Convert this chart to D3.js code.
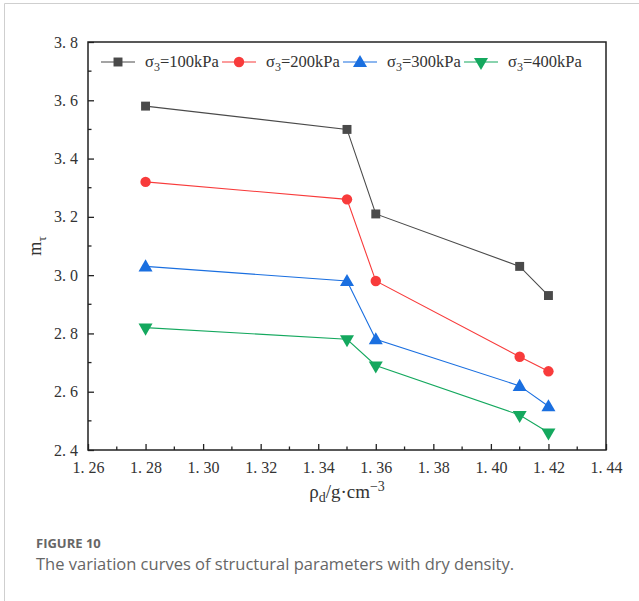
<!DOCTYPE html>
<html>
<head>
<meta charset="utf-8">
<script src="https://cdn.jsdelivr.net/npm/d3@7"></script>
<style>
  body { margin: 0; background: #fff; }
</style>
</head>
<body>
<div id="chart"></div>
<script>
// dry density values (x axis)
var densities = [1.28, 1.35, 1.36, 1.41, 1.42];

// structural parameter m for each confining pressure
var seriesNames = ["100kPa", "200kPa", "300kPa", "400kPa"];
var m100 = [3.58, 3.50, 3.21, 3.03, 2.93];
var m200 = [3.32, 3.26, 2.98, 2.72, 2.67];
var m300 = [3.03, 2.98, 2.78, 2.62, 2.55];
var m400 = [2.82, 2.78, 2.69, 2.52, 2.46];

var xTicks = [1.26, 1.28, 1.30, 1.32, 1.34, 1.36, 1.38, 1.40, 1.42, 1.44];
var yTicks = [2.4, 2.6, 2.8, 3.0, 3.2, 3.4, 3.6, 3.8];

var colors = ["#4a4a4a", "#f83b3b", "#1a6fe0", "#14a85e"];
var symbols = [d3.symbolSquare, d3.symbolCircle, d3.symbolTriangle, "down"];
var serif = "Liberation Serif, DejaVu Serif, serif";

var width = 639, height = 601;
var margin = {left: 88, top: 42, right: 33, bottom: 151};

var svg = d3.select("#chart").append("svg")
    .attr("width", width)
    .attr("height", height);

// card border
svg.append("path")
    .attr("d", "M4.5," + height + "V3.5H" + width)
    .attr("fill", "none")
    .attr("stroke", "#cfcfcf")
    .attr("stroke-width", 1);

var x = d3.scaleLinear()
    .domain([1.26, 1.44])
    .range([margin.left, width - margin.right]);
var y = d3.scaleLinear()
    .domain([2.4, 3.8])
    .range([height - margin.bottom, margin.top]);

var fmt = function(d) { return d.toFixed(d < 2 ? 2 : 1).replace(".", ". "); };

// minor ticks
var xMinor = d3.range(1.27, 1.44, 0.02);
var yMinor = d3.range(2.5, 3.8, 0.2);

var xAxis = svg.append("g")
    .attr("transform", "translate(0," + y(2.4) + ")")
    .call(d3.axisBottom(x).tickValues(xTicks).tickFormat(fmt).tickSizeInner(-6).tickSizeOuter(0).tickPadding(12))
    .attr("font-family", serif)
    .attr("font-size", 16);
xAxis.select(".domain").remove();
xAxis.selectAll(".tick line").attr("stroke", "#222").attr("stroke-width", 1.3);

svg.append("g").selectAll("line")
    .data(xMinor)
    .enter().append("line")
    .attr("x1", function(d) { return x(d); })
    .attr("x2", function(d) { return x(d); })
    .attr("y1", y(2.4))
    .attr("y2", y(2.4) - 3.5)
    .attr("stroke", "#222")
    .attr("stroke-width", 1.3);

var yAxis = svg.append("g")
    .attr("transform", "translate(" + x(1.26) + ",0)")
    .call(d3.axisLeft(y).tickValues(yTicks).tickFormat(fmt).tickSizeInner(-6).tickSizeOuter(0).tickPadding(10))
    .attr("font-family", serif)
    .attr("font-size", 16);
yAxis.select(".domain").remove();
yAxis.selectAll(".tick line").attr("stroke", "#222").attr("stroke-width", 1.3);

svg.selectAll(".tick text")
    .attr("fill", "#333");

svg.append("g").selectAll("line")
    .data(yMinor)
    .enter().append("line")
    .attr("x1", x(1.26))
    .attr("x2", x(1.26) + 3.5)
    .attr("y1", function(d) { return y(d); })
    .attr("y2", function(d) { return y(d); })
    .attr("stroke", "#222")
    .attr("stroke-width", 1.3);

// plot frame
svg.append("rect")
    .attr("x", x(1.26))
    .attr("y", y(3.8))
    .attr("width", x(1.44) - x(1.26))
    .attr("height", y(2.4) - y(3.8))
    .attr("fill", "none")
    .attr("stroke", "#222")
    .attr("stroke-width", 1.5);

// marker helper
function marker(g, i, cx, cy) {
    if (symbols[i] === "down") {
        g.append("path")
            .attr("d", d3.symbol(d3.symbolTriangle, 85)())
            .attr("transform", "translate(" + cx + "," + cy + ") rotate(180)")
            .attr("fill", colors[i]);
    } else {
        g.append("path")
            .attr("d", d3.symbol(symbols[i], i === 0 ? 80 : 85)())
            .attr("transform", "translate(" + cx + "," + (cy + (i === 2 ? 1 : 0)) + ")")
            .attr("fill", colors[i]);
    }
}

var allSeries = [m100, m200, m300, m400];
var line = d3.line()
    .x(function(d, i) { return x(densities[i]); })
    .y(function(d) { return y(d); });

allSeries.forEach(function(vals, i) {
    var g = svg.append("g");
    g.append("path")
        .attr("d", line(vals))
        .attr("fill", "none")
        .attr("stroke", colors[i])
        .attr("stroke-width", 1.1);
    vals.forEach(function(v, j) {
        marker(g, i, x(densities[j]), y(v));
    });
});

// legend
var legendX = [101, 222, 343, 464];
var legendY = 62;
seriesNames.forEach(function(name, i) {
    var g = svg.append("g");
    g.append("line")
        .attr("x1", legendX[i]).attr("x2", legendX[i] + 34)
        .attr("y1", legendY).attr("y2", legendY)
        .attr("stroke", colors[i])
        .attr("stroke-width", 1.1);
    marker(g, i, legendX[i] + 17, legendY);
    var t = g.append("text")
        .attr("x", legendX[i] + 44)
        .attr("y", legendY + 5)
        .attr("font-family", serif)
        .attr("font-size", 16.5)
        .attr("fill", "#333");
    t.append("tspan").text("σ");
    t.append("tspan").attr("dy", 4).attr("font-size", 12).text("3");
    t.append("tspan").attr("dy", -4).text("=" + name);
});

// axis labels
var xl = svg.append("text")
    .attr("x", (x(1.26) + x(1.44)) / 2)
    .attr("y", 498)
    .attr("text-anchor", "middle")
    .attr("font-family", serif)
    .attr("font-size", 19)
    .attr("fill", "#333");
xl.append("tspan").text("ρ");
xl.append("tspan").attr("dy", 4).attr("font-size", 14).text("d");
xl.append("tspan").attr("dy", -4).text("/g·cm");
xl.append("tspan").attr("dy", -7).attr("font-size", 14).text("−3");

var yl = svg.append("text")
    .attr("transform", "translate(41," + y(3.1) + ") rotate(-90)")
    .attr("text-anchor", "middle")
    .attr("font-family", serif)
    .attr("font-size", 18)
    .attr("fill", "#333");
yl.append("tspan").text("m");
yl.append("tspan").attr("dy", 5).attr("font-size", 13).text("τ");

// caption
svg.append("text")
    .attr("x", 36)
    .attr("y", 548)
    .attr("font-family", "Open Sans, Noto Sans, sans-serif")
    .attr("font-size", 13)
    .attr("font-weight", "bold")
    .attr("fill", "#666")
    .text("FIGURE 10");
svg.append("text")
    .attr("x", 36)
    .attr("y", 570)
    .attr("font-family", "Open Sans, Noto Sans, sans-serif")
    .attr("font-size", 16.5)
    .attr("fill", "#666")
    .text("The variation curves of structural parameters with dry density.");
</script>
</body>
</html>
